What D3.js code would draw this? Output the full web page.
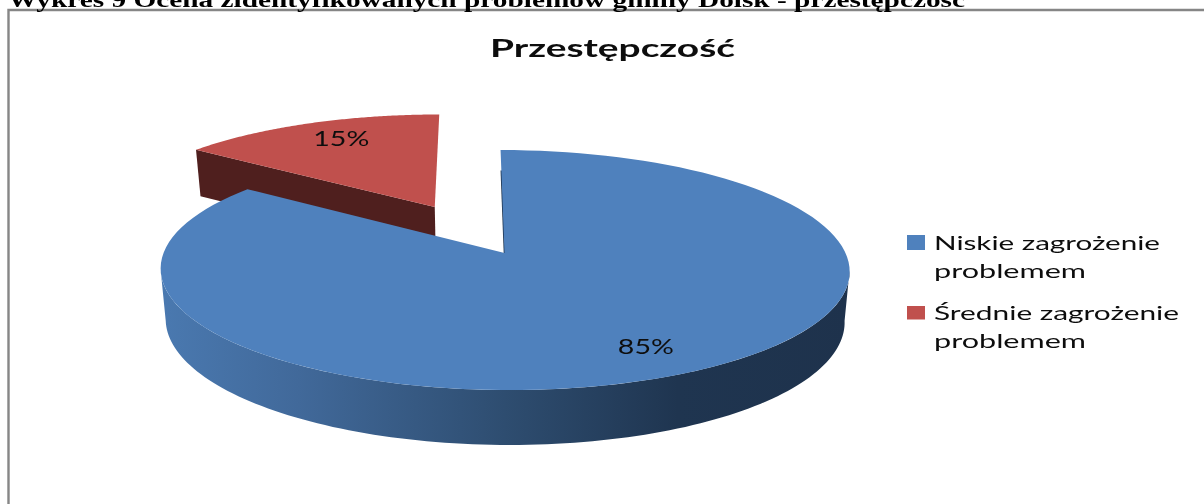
<!DOCTYPE html>
<html lang="pl">
<head>
<meta charset="utf-8">
<style>
html,body{margin:0;padding:0;background:#fff;overflow:hidden}
svg{display:block}
text{font-family:Lato,"Noto Sans",sans-serif;fill:#111;filter:url(#soft)}
</style>
<script src="https://cdn.jsdelivr.net/npm/d3@7/dist/d3.min.js"></script>
</head>
<body>
<svg id="chart" width="1204" height="504" viewBox="0 0 1204 504"></svg>
<script>
const heading = "Wykres 9 Ocena zidentyfikowanych problemów gminy Dolsk - przestępczość";
const chartTitle = "Przestępczość";
const categories = ["Niskie zagrożenie problemem", "Średnie zagrożenie problemem"];
const legendLines = [["Niskie zagrożenie", "problemem"], ["Średnie zagrożenie", "problemem"]];
const values = [85, 15];
const topColors = ["#4f81bd", "#c0504d"];

const svg = d3.select("#chart");
const TAU = Math.PI * 2;

// Perspective projection of the flat pie disc onto the page
const persp = 0.142, skew = -4.5, cx = 504.5;
const topFace = {A: 341, B: 117.6, y0: 253};
const baseFace = {A: 336, B: 121.8, y0: 303};
const project = (face, u, v) => {
  const w = 1 + persp * v;
  return [cx + (face.A * u + skew * v) / w, face.y0 - face.B * v / w];
};

const pie = d3.pie().sort(null).startAngle(0).endAngle(TAU)(values);
const explode = [0, 0.465];
const line = d3.line();

pie.forEach((s, i) => {
  const mid = (s.startAngle + s.endAngle) / 2;
  s.ox = explode[i] * Math.sin(mid);
  s.oy = explode[i] * Math.cos(mid);
  s.mid = mid;
});
const rim = (face, s, a, r = 1) =>
  project(face, s.ox + r * Math.sin(a), s.oy + r * Math.cos(a));
const arcAngles = (a0, a1) => d3.range(0, 121).map(k => a0 + (a1 - a0) * k / 120);
const sector = (face, s) =>
  [rim(face, s, s.startAngle, 0), ...arcAngles(s.startAngle, s.endAngle).map(a => rim(face, s, a))];

const defs = svg.append("defs");
defs.append("filter").attr("id", "soft").attr("x", "-5%").attr("y", "-30%")
  .attr("width", "110%").attr("height", "160%")
  .append("feGaussianBlur").attr("stdDeviation", 0.4);
const grad = defs.append("linearGradient").attr("id", "blueSide")
  .attr("gradientUnits", "userSpaceOnUse")
  .attr("x1", 160).attr("x2", 850).attr("y1", 0).attr("y2", 0);
[[0, "#4a79b0"], [0.2, "#41699a"], [0.5, "#2e4d70"], [0.75, "#1f3550"], [1, "#1e324c"]]
  .forEach(([o, c]) => grad.append("stop").attr("offset", o).attr("stop-color", c));

// Frame
svg.append("path").attr("d", line([[8.5, 504], [8.5, 10], [1204, 10]]))
  .attr("fill", "none").attr("stroke", "#868686").attr("stroke-width", 2.4);

// Heading (clipped by the page top as in the source scan)
svg.append("text").text(heading)
  .attr("x", 8).attr("y", 7)
  .attr("textLength", 957).attr("lengthAdjust", "spacingAndGlyphs")
  .style("font-family", "'Liberation Serif',serif").style("font-weight", 700)
  .style("font-size", "21px").style("fill", "#000");

// Title
svg.append("text").text(chartTitle)
  .attr("x", 490).attr("y", 57)
  .attr("textLength", 245).attr("lengthAdjust", "spacingAndGlyphs")
  .style("font-size", "25px").style("font-weight", 700).style("fill", "#0a0a0a");

// Red slice: front wall and top
const red = pie[1];
svg.append("path")
  .attr("d", line([rim(topFace, red, red.startAngle), rim(topFace, red, red.startAngle, 0),
                   rim(baseFace, red, red.startAngle, 0), rim(baseFace, red, red.startAngle)]) + "Z")
  .attr("fill", "#4f1f1e");
svg.append("path").attr("d", line(sector(topFace, red)) + "Z").attr("fill", topColors[1]);

// Blue slice: outer wall, inner sliver and top
const blue = pie[0];
const a0 = Math.acos(-persp), a1 = TAU - a0;
const wallAngles = arcAngles(a0, a1);
svg.append("path")
  .attr("d", line([...wallAngles.map(a => rim(topFace, blue, a)),
                   ...wallAngles.slice().reverse().map(a => rim(baseFace, blue, a))]) + "Z")
  .attr("fill", "url(#blueSide)");
svg.append("path")
  .attr("d", line([rim(topFace, blue, 0, 0.78), rim(topFace, blue, 0, -0.01)]))
  .attr("stroke", "#1f3550").attr("stroke-width", 1.6).attr("fill", "none");
svg.append("path").attr("d", line(sector(topFace, blue)) + "Z").attr("fill", topColors[0]);

// Data labels
const fmt = d3.format(".0%");
const total = d3.sum(values);
const labelDx = [0, 10];
pie.forEach((s, i) => {
  const [x, y] = rim(topFace, s, s.mid, 0.8);
  svg.append("text").text(fmt(s.value / total))
    .attr("x", x + labelDx[i] - 28).attr("y", y + 7.5)
    .attr("textLength", 56).attr("lengthAdjust", "spacingAndGlyphs")
    .style("font-size", "21px");
});

// Legend
const legendY = d3.scaleOrdinal().domain(categories).range([250, 320]);
const swatchH = [15, 13.5];
const lineWidths = [[226, 152], [245, 152]];
categories.forEach((c, i) => {
  const base = legendY(c);
  svg.append("rect").attr("x", 907).attr("y", base - (i ? 14 : 15))
    .attr("width", 18).attr("height", swatchH[i]).attr("fill", topColors[i]);
  legendLines[i].forEach((t, j) => {
    svg.append("text").text(t)
      .attr("x", 934).attr("y", base + j * 27.5)
      .attr("textLength", lineWidths[i][j]).attr("lengthAdjust", "spacingAndGlyphs")
      .style("font-size", "20px");
  });
});
</script>
</body>
</html>
